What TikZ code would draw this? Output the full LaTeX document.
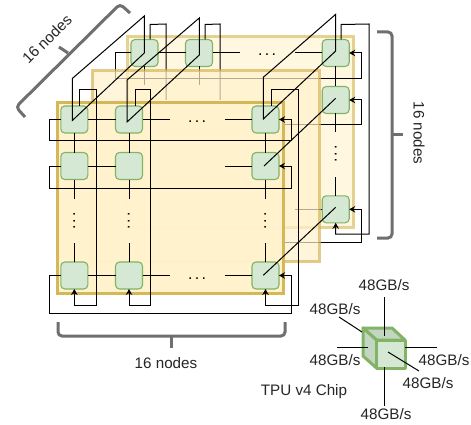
\documentclass[tikz,border=0pt]{standalone}
\usepackage{fontspec}
\setmainfont{Liberation Sans}
\usetikzlibrary{arrows.meta}
\definecolor{panelfill}{HTML}{FFF2CC}
\definecolor{paneldraw}{HTML}{D6B656}
\definecolor{chipfill}{HTML}{D5E8D4}
\definecolor{chipshade}{HTML}{C3D6C2}
\definecolor{chipdraw}{HTML}{82B366}
\definecolor{bracegray}{HTML}{6F6F6F}
\newcommand{\gapdots}{.\kern2.3pt.\kern2.3pt.}
\tikzset{
  panel/.style={fill=panelfill,draw=paneldraw,line width=3pt},
  chipnode/.style={draw=chipdraw,fill=chipfill,line width=1.1pt,rounded corners=4pt,minimum size=27pt,inner sep=0pt,outer sep=0pt},
  wire/.style={draw=black,line width=1pt,line join=miter},
  wirearrow/.style={wire,-{Stealth[length=6pt,width=6.5pt]}},
  bracket/.style={draw=bracegray,line width=3pt,rounded corners=4pt},
  brstem/.style={draw=bracegray,line width=3pt},
  lbl/.style={font=\fontsize{15.2}{17}\selectfont,text=black!85,inner sep=0pt},
  gdots/.style={font=\fontsize{16}{16}\selectfont,inner sep=0pt,anchor=base},
  cubeface/.style={draw=chipdraw,line width=3pt,line join=round},
}
\begin{document}
\begin{tikzpicture}[x=1pt,y=-1pt]
\useasboundingbox (0,0) rectangle (471,425);

% ---------- back layer ----------
\fill[white] (0,0) rectangle (471,425);
\draw[panel,opacity=.6] (127.5,36.5) rectangle (353.5,227);
\node[chipnode] (b1) at (144.5,53) {};
\node[chipnode] (b2) at (199,53) {};
\node[chipnode] (b3) at (335.7,53) {};
\node[chipnode] (b4) at (335.7,100) {};
\node[chipnode] (b5) at (335.7,209.3) {};
\node[gdots] (bd1) at (267,56) {\gapdots};
\node[gdots,rotate=90] (bd2) at (336.5,154) {\gapdots};

\draw[wire] (b1.east) -- (b2.west);
\draw[wire] (b2.east) -- ++(27,0);
\draw[wire] (b3.west) -- ++(-27,0);
\draw[wire] (b5.west) -- ++(-27,0);
\draw[wire] (b1.south) -- ++(0,19);
\draw[wire] (b2.south) -- ++(0,19);
\draw[wire] (b3.south) -- (b4.north);
\draw[wire] (b4.south) -- ++(0,19);
\draw[wire] (b5.north) -- ++(0,-19);
% back wraps, column
\draw[wire] ([xshift=5.5pt]b1.north) -- ++(0,-15) -- (166,24) -- (166,100);
\draw[wire] ([xshift=6pt]b2.north) -- ++(0,-15) -- (220,24) -- (220,100);
\draw[wirearrow] ([xshift=5.5pt]b3.north) -- ++(0,-15) -- (369,24) -- (369,234) -- (335.7,234) -- (b5.south);
% back wraps, row
\draw[wirearrow] (b1.west) -- (115,53) -- (115,79) -- (361,79) -- (361,53) -- (b3.east);
\draw[wirearrow] (280,125) -- (361,125) -- (361,100) -- (b4.east);
\draw[wirearrow] (280,242) -- (361,242) -- (361,209.3) -- (b5.east);

% ---------- middle layer ----------
\draw[panel,opacity=.7] (92.5,71) rectangle (319,261);

% ---------- front layer ----------
\draw[panel,opacity=.98] (57,102.5) rectangle (283.5,293.5);
\node[chipnode] (f11) at (74.3,119.5) {};
\node[chipnode] (f12) at (129,119.5) {};
\node[chipnode] (f13) at (265.5,119.5) {};
\node[chipnode] (f21) at (74.3,166) {};
\node[chipnode] (f22) at (129,166) {};
\node[chipnode] (f23) at (265.5,166) {};
\node[chipnode] (f31) at (74.3,275.5) {};
\node[chipnode] (f32) at (129,275.5) {};
\node[chipnode] (f33) at (265.5,275.5) {};
\node[gdots] (fd1) at (197,123) {\gapdots};
\node[gdots] (fd2) at (197,279) {\gapdots};
\node[gdots,rotate=90] (fd3) at (75,221) {\gapdots};
\node[gdots,rotate=90] (fd4) at (129.7,221) {\gapdots};
\node[gdots,rotate=90] (fd5) at (266,221) {\gapdots};

\draw[wire] (f11.east) -- (f12.west);
\draw[wire] (f12.east) -- ++(27,0);
\draw[wire] (f13.west) -- ++(-27,0);
\draw[wire] (f21.east) -- (f22.west);
\draw[wire] (f23.west) -- ++(-27,0);
\draw[wire] (f31.east) -- (f32.west);
\draw[wire] (f32.east) -- ++(27,0);
\draw[wire] (f33.west) -- ++(-27,0);
\foreach \a/\b in {f11/f21,f12/f22,f13/f23}{
  \draw[wire] (\a.south) -- (\b.north);
}
\foreach \a in {f21,f22,f23}{
  \draw[wire] (\a.south) -- ++(0,19);
}
\foreach \a in {f31,f32,f33}{
  \draw[wire] (\a.north) -- ++(0,-19);
}
% front wraps, column
\draw[wirearrow] ([xshift=5.5pt]f11.north) -- ++(0,-16) -- (96,90) -- (96,305) -- (74.3,305) -- (f31.south);
\draw[wirearrow] ([xshift=6pt]f12.north) -- ++(0,-16) -- (150,90) -- (150,305) -- (129,305) -- (f32.south);
\draw[wirearrow] ([xshift=5.5pt]f13.north) -- ++(0,-16) -- (298,90) -- (298,305) -- (265.5,305) -- (f33.south);
% front wraps, row
\draw[wirearrow] (f11.west) -- (49,119.5) -- (49,141) -- (291,141) -- (291,119.5) -- (f13.east);
\draw[wirearrow] (f21.west) -- (49,166) -- (49,188) -- (291,188) -- (291,166) -- (f23.east);
\draw[wirearrow] (f31.west) -- (49,275.5) -- (49,313) -- (291,313) -- (291,275.5) -- (f33.east);

% ---------- links between layers ----------
\coordinate (d1a) at (72.3,120.5);
\coordinate (d1b) at (144.3,53);
\coordinate (d1c) at (144.3,16);
\coordinate (d1d) at (72.3,78.5);
\coordinate (d2a) at (127,122);
\coordinate (d2b) at (199.3,55);
\coordinate (d2c) at (199.3,18);
\coordinate (d2d) at (127,80);
\coordinate (d3a) at (263.3,119);
\coordinate (d3b) at (335.7,51);
\coordinate (d3c) at (335.7,14.3);
\coordinate (d3d) at (263.3,77.3);
\coordinate (d4a) at (264,166);
\coordinate (d4b) at (335.7,98.3);
\coordinate (d5a) at (263.3,275.3);
\coordinate (d5b) at (335.7,207.3);
\draw[wire] (d1a) -- (d1b) -- (d1c) -- (d1d) -- cycle;
\draw[wire] (d2a) -- (d2b) -- (d2c) -- (d2d) -- cycle;
\draw[wire] (d3a) -- (d3b) -- (d3c) -- (d3d) -- cycle;
\draw[wire] (d4a) -- (d4b);
\draw[wire] (d5a) -- (d5b);

% ---------- brackets ----------
\draw[bracket] (130,13) -- (120,4) -- (16,107) -- (25,117);
\draw[brstem] (68,53) -- (59,47);
\draw[bracket] (377,32) -- (392,32) -- (392,238) -- (377,238);
\draw[brstem] (392,135) -- (403,135);
\draw[bracket] (58,322) -- (58,336) -- (285,336) -- (285,322);
\draw[brstem] (171,336) -- (171,348);
\node[lbl,rotate=45] (t1) at (47,39) {16 nodes};
\node[lbl,rotate=-90] (t2) at (419,133) {16 nodes};
\node[lbl] (t3) at (166,363) {16 nodes};

% ---------- chip ----------
\coordinate (c1) at (363,328);
\coordinate (c2) at (392,328);
\coordinate (c3) at (405,340);
\coordinate (c4) at (376.5,340);
\coordinate (c5) at (405,368);
\coordinate (c6) at (376.5,368);
\coordinate (c7) at (363,356);
\draw[cubeface,fill=chipshade] (c1) -- (c2) -- (c3) -- (c4) -- cycle;
\draw[cubeface,fill=chipshade] (c1) -- (c4) -- (c6) -- (c7) -- cycle;
\draw[cubeface,fill=chipfill] (c4) -- (c3) -- (c5) -- (c6) -- cycle;
\node[lbl] (chiplabel) at (304,392) {TPU v4 Chip};
\node[lbl] (l1) at (384,285) {48GB/s};
\node[lbl] (l2) at (335,309) {48GB/s};
\node[lbl] (l3) at (335,360) {48GB/s};
\node[lbl] (l4) at (444,360) {48GB/s};
\node[lbl] (l5) at (428,383) {48GB/s};
\node[lbl] (l6) at (386,414) {48GB/s};
\coordinate (e1a) at (384,297);
\coordinate (e1b) at (384,336);
\coordinate (e2a) at (339,317);
\coordinate (e2b) at (362,332);
\coordinate (e3a) at (337,347);
\coordinate (e3b) at (368,347);
\coordinate (e4a) at (405,347);
\coordinate (e4b) at (437,347);
\coordinate (e5a) at (388,352);
\coordinate (e5b) at (419,371);
\coordinate (e6a) at (384,367);
\coordinate (e6b) at (384,406);
\foreach \n in {1,...,6}{
  \draw[wire] (e\n a) -- (e\n b);
}
\end{tikzpicture}
\end{document}
